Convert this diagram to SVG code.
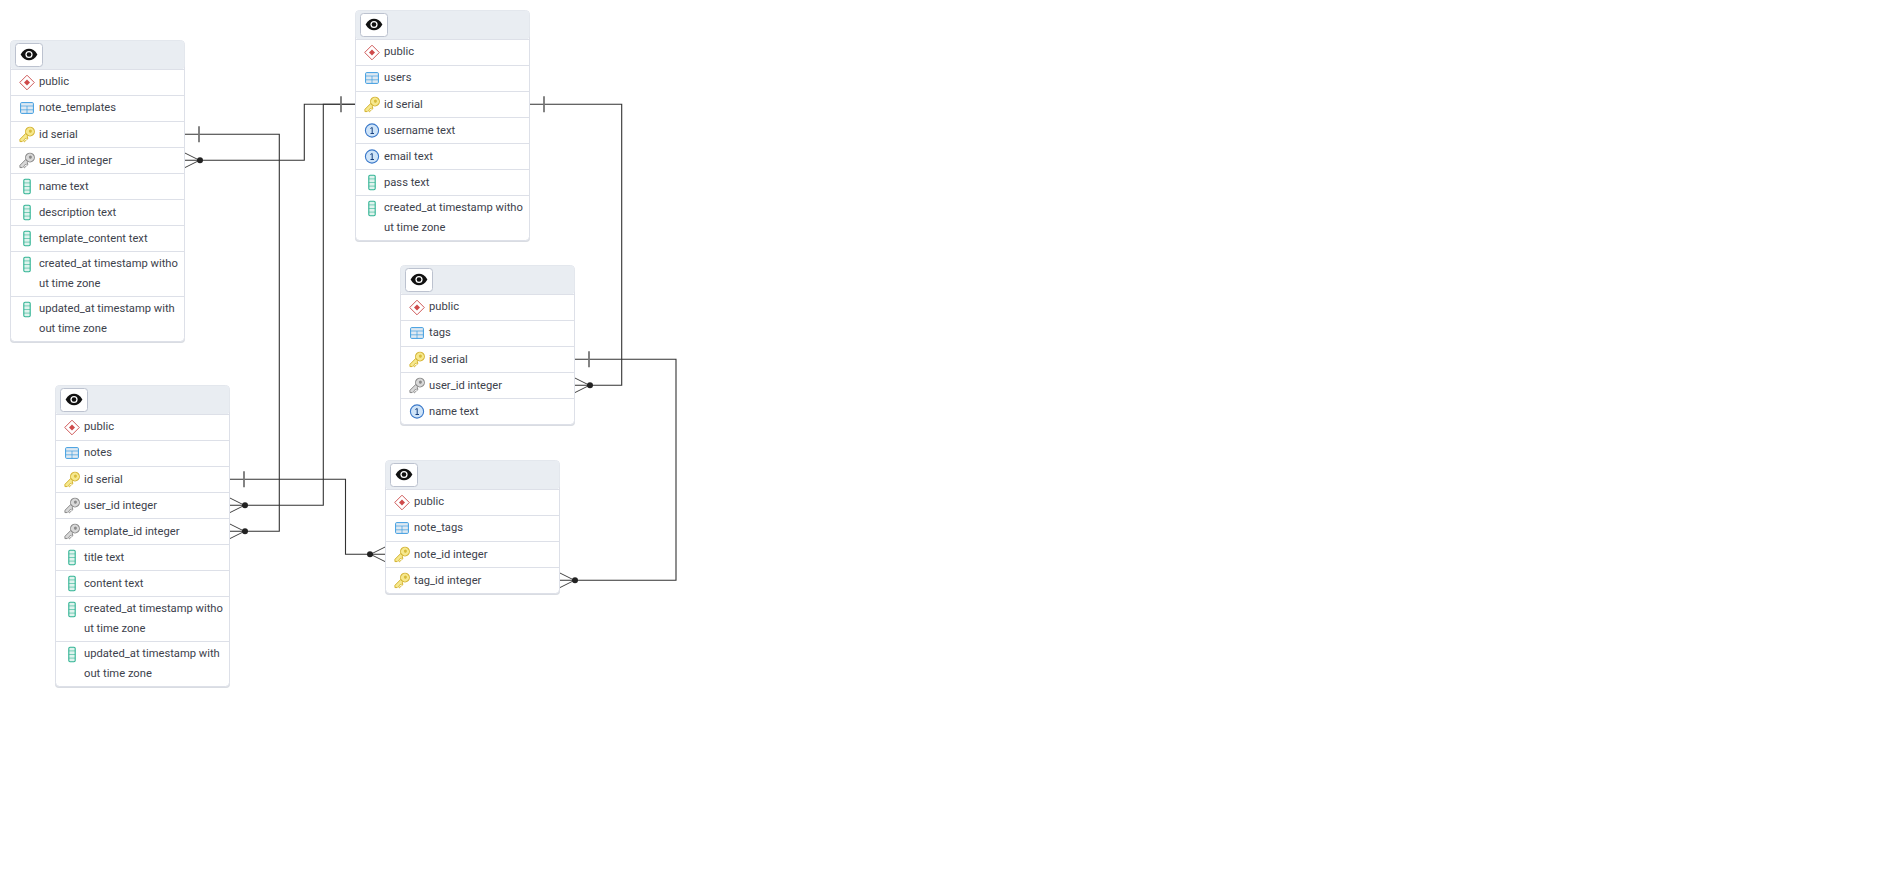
<svg xmlns="http://www.w3.org/2000/svg" width="1903" height="890" viewBox="0 0 1903 890">
<style>
text{font-family:Roboto,"Liberation Sans",sans-serif;font-size:11.2px;fill:#3d424c;transform:translateY(-.6px)}
.card{fill:#fff;stroke:#dde0e8;stroke-width:1}
.shadow{fill:#d9dce2}
.head{fill:#e9edf2}
.sep{stroke:#dde0e8;stroke-width:1;fill:none}
.btn{fill:#fff;stroke:#bcc2cf;stroke-width:1}
.c{fill:none;stroke:#333;stroke-width:1.1}
.tick{stroke:#777;stroke-width:1.8}
.dot{fill:#222}
.crow{fill:none;stroke:#444;stroke-width:1}
</style>
<defs>
<symbol id="eye" overflow="visible"><path d="M-8.4 0C-6-4.2-3-5.8 0-5.8S6-4.2 8.4 0C6 4.2 3 5.8 0 5.8S-6 4.2-8.4 0Z" fill="#111"/><circle r="3.6" fill="#fff"/><circle r="2.3" fill="#111"/></symbol>
<symbol id="schema" overflow="visible"><path d="M0-7.3 7.3 0 0 7.3-7.3 0Z" fill="#fff" stroke="#cf5a5a" stroke-width="1"/><path d="M0-3 3 0 0 3-3 0Z" fill="#cf4a4a"/></symbol>
<symbol id="table" overflow="visible"><rect x="-6.4" y="-5.4" width="12.8" height="10.8" rx="1" fill="#dfe9f2" stroke="#3f9de0" stroke-width="1"/><path d="M-6.4-2H6.4M-6.4 1.8H6.4M0-2V5.4" stroke="#3f9de0" stroke-width=".7" fill="none"/></symbol>
<symbol id="pk" overflow="visible"><g transform="rotate(45)"><path d="M-1.6 0H1.6V1.8H3.4V3.6H1.6V5.2H3.4V7H1.6V8.4L0 10-1.6 8.4Z" fill="#f6e88e" stroke="#d2b02c" stroke-width=".9"/><circle cy="-4.2" r="4.4" fill="#f6e88e" stroke="#d2b02c" stroke-width="1"/><circle cy="-4.8" r="1.5" fill="#d8bb3a"/></g></symbol>
<symbol id="fk" overflow="visible"><g transform="rotate(45)"><path d="M-1.6 0H1.6V1.8H3.4V3.6H1.6V5.2H3.4V7H1.6V8.4L0 10-1.6 8.4Z" fill="#d8d8d8" stroke="#858585" stroke-width=".9"/><circle cy="-4.2" r="4.4" fill="#d8d8d8" stroke="#858585" stroke-width="1"/><circle cy="-4.8" r="1.5" fill="#8a8a8a"/></g></symbol>
<symbol id="col" overflow="visible"><rect x="-3.2" y="-7.2" width="6.4" height="14.4" rx="1.2" fill="#dff3ed" stroke="#2fb392" stroke-width="1.1"/><path d="M-3.2-3.6H3.2M-3.2 0H3.2M-3.2 3.6H3.2" stroke="#2fb392" stroke-width=".6" fill="none"/></symbol>
<symbol id="uniq" overflow="visible"><circle r="6.6" fill="#cfe4f8" stroke="#3a78c9" stroke-width="1.1"/><path d="M-1.6-2 .2-3V3M-1.5 3H2" stroke="#17407f" stroke-width="1" fill="none"/></symbol>
<g id="hdr"><rect class="head" x="0" y="0" width="174" height="29" rx="4"/><rect class="btn" x="5" y="3" width="27" height="23" rx="3"/><use href="#eye" x="18.5" y="14"/></g>
<g id="manyR"><path class="crow" d="M0-7.5 15 0 0 7.5"/><circle class="dot" cx="15.5" cy="0" r="3"/></g>
<g id="manyL"><path class="crow" d="M0-7.5-15 0 0 7.5"/><circle class="dot" cx="-15.5" cy="0" r="3"/></g>
</defs>
<rect width="1903" height="890" fill="#fff"/>

<g id="connectors">
<path class="c" d="M185 134.3H279.3V531.3H230"/>
<path class="c" d="M185 160.3H304.3V104.3H355"/>
<path class="c" d="M355 104.3H323.3V505.3H230"/>
<path class="c" d="M530 104.3H621.7V385.3H575"/>
<path class="c" d="M575 359.3H676V580.3H560"/>
<path class="c" d="M230 479.3H345.5V554.3H386"/>
<path class="tick" d="M199 126.3V142.3M341 96.3V112.3M544 96.3V112.3M589 351.3V367.3M244 471.3V487.3"/>
<use href="#manyR" x="184.5" y="160.3"/>
<use href="#manyR" x="229.5" y="505.3"/>
<use href="#manyR" x="229.5" y="531.3"/>
<use href="#manyR" x="574.5" y="385.3"/>
<use href="#manyR" x="559.5" y="580.3"/>
<use href="#manyL" x="385.5" y="554.3"/>
</g>

<g id="node-note_templates" transform="translate(10.5 40.5)">
<rect class="shadow" x="-.5" y="1.5" width="175" height="301" rx="4"/>
<rect class="card" width="174" height="301" rx="4"/>
<use href="#hdr"/>
<path class="sep" d="M0 29H174M0 55H174M0 81H174M0 107H174M0 133H174M0 159H174M0 185H174M0 211H174M0 256H174"/>
<use href="#schema" x="16.5" y="42"/><text x="28.5" y="45">public</text>
<use href="#table" x="16.5" y="67.5"/><text x="28.5" y="71">note_templates</text>
<use href="#pk" x="16.5" y="94"/><text x="28.5" y="98">id serial</text>
<use href="#fk" x="16.5" y="120"/><text x="28.5" y="124">user_id integer</text>
<use href="#col" x="16.5" y="146"/><text x="28.5" y="150">name text</text>
<use href="#col" x="16.5" y="172"/><text x="28.5" y="176">description text</text>
<use href="#col" x="16.5" y="198"/><text x="28.5" y="202">template_content text</text>
<use href="#col" x="16.5" y="224"/><text x="28.5" y="227">created_at timestamp witho</text><text x="28.5" y="247">ut time zone</text>
<use href="#col" x="16.5" y="269"/><text x="28.5" y="272">updated_at timestamp with</text><text x="28.5" y="292">out time zone</text>
</g>

<g id="node-users" transform="translate(355.5 10.5)">
<rect class="shadow" x="-.5" y="1.5" width="175" height="230" rx="4"/>
<rect class="card" width="174" height="230" rx="4"/>
<use href="#hdr"/>
<path class="sep" d="M0 29H174M0 55H174M0 81H174M0 107H174M0 133H174M0 159H174M0 185H174"/>
<use href="#schema" x="16.5" y="42"/><text x="28.5" y="45">public</text>
<use href="#table" x="16.5" y="67.5"/><text x="28.5" y="71">users</text>
<use href="#pk" x="16.5" y="94"/><text x="28.5" y="98">id serial</text>
<use href="#uniq" x="16.5" y="120"/><text x="28.5" y="124">username text</text>
<use href="#uniq" x="16.5" y="146"/><text x="28.5" y="150">email text</text>
<use href="#col" x="16.5" y="172"/><text x="28.5" y="176">pass text</text>
<use href="#col" x="16.5" y="198"/><text x="28.5" y="201">created_at timestamp witho</text><text x="28.5" y="221">ut time zone</text>
</g>

<g id="node-tags" transform="translate(400.5 265.5)">
<rect class="shadow" x="-.5" y="1.5" width="175" height="159" rx="4"/>
<rect class="card" width="174" height="159" rx="4"/>
<use href="#hdr"/>
<path class="sep" d="M0 29H174M0 55H174M0 81H174M0 107H174M0 133H174"/>
<use href="#schema" x="16.5" y="42"/><text x="28.5" y="45">public</text>
<use href="#table" x="16.5" y="67.5"/><text x="28.5" y="71">tags</text>
<use href="#pk" x="16.5" y="94"/><text x="28.5" y="98">id serial</text>
<use href="#fk" x="16.5" y="120"/><text x="28.5" y="124">user_id integer</text>
<use href="#uniq" x="16.5" y="146"/><text x="28.5" y="150">name text</text>
</g>

<g id="node-note_tags" transform="translate(385.5 460.5)">
<rect class="shadow" x="-.5" y="1.5" width="175" height="133" rx="4"/>
<rect class="card" width="174" height="133" rx="4"/>
<use href="#hdr"/>
<path class="sep" d="M0 29H174M0 55H174M0 81H174M0 107H174"/>
<use href="#schema" x="16.5" y="42"/><text x="28.5" y="45">public</text>
<use href="#table" x="16.5" y="67.5"/><text x="28.5" y="71">note_tags</text>
<use href="#pk" x="16.5" y="94"/><text x="28.5" y="98">note_id integer</text>
<use href="#pk" x="16.5" y="120"/><text x="28.5" y="124">tag_id integer</text>
</g>

<g id="node-notes" transform="translate(55.5 385.5)">
<rect class="shadow" x="-.5" y="1.5" width="175" height="301" rx="4"/>
<rect class="card" width="174" height="301" rx="4"/>
<use href="#hdr"/>
<path class="sep" d="M0 29H174M0 55H174M0 81H174M0 107H174M0 133H174M0 159H174M0 185H174M0 211H174M0 256H174"/>
<use href="#schema" x="16.5" y="42"/><text x="28.5" y="45">public</text>
<use href="#table" x="16.5" y="67.5"/><text x="28.5" y="71">notes</text>
<use href="#pk" x="16.5" y="94"/><text x="28.5" y="98">id serial</text>
<use href="#fk" x="16.5" y="120"/><text x="28.5" y="124">user_id integer</text>
<use href="#fk" x="16.5" y="146"/><text x="28.5" y="150">template_id integer</text>
<use href="#col" x="16.5" y="172"/><text x="28.5" y="176">title text</text>
<use href="#col" x="16.5" y="198"/><text x="28.5" y="202">content text</text>
<use href="#col" x="16.5" y="224"/><text x="28.5" y="227">created_at timestamp witho</text><text x="28.5" y="247">ut time zone</text>
<use href="#col" x="16.5" y="269"/><text x="28.5" y="272">updated_at timestamp with</text><text x="28.5" y="292">out time zone</text>
</g>
</svg>
